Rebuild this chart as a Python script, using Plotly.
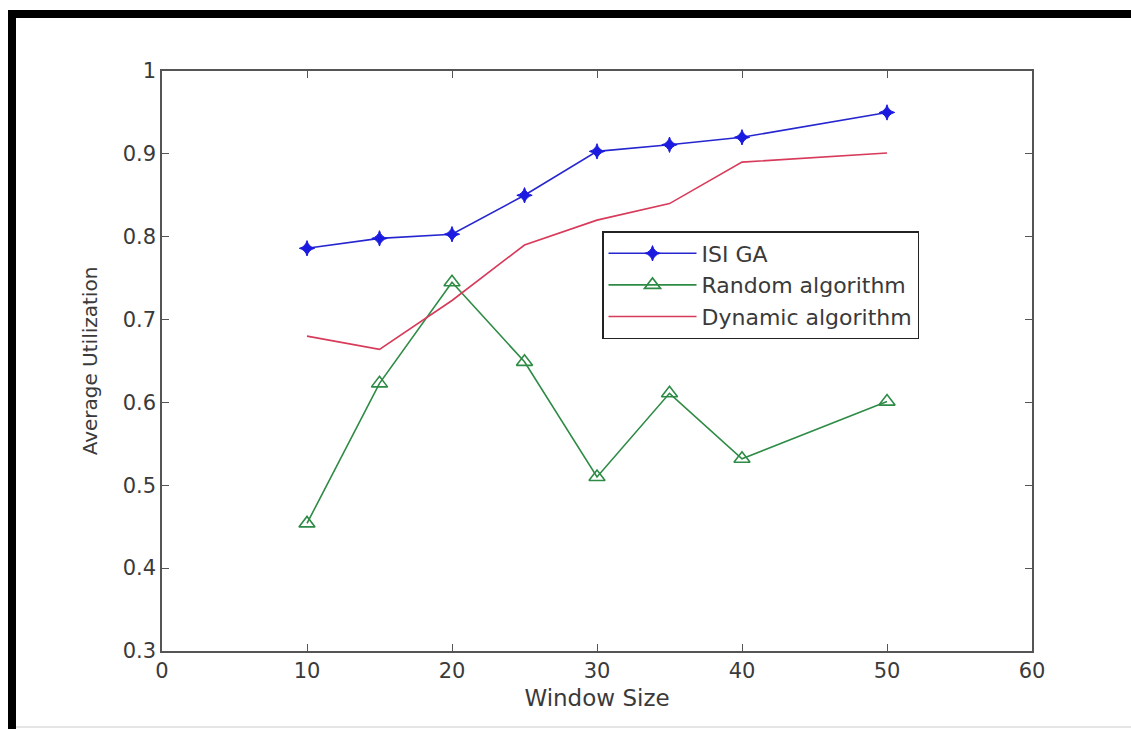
import plotly.graph_objects as go

window_size = [10, 15, 20, 25, 30, 35, 40, 50]
isi_ga = [0.786, 0.798, 0.803, 0.850, 0.903, 0.911, 0.920, 0.950]
random_alg = [0.454, 0.623, 0.745, 0.649, 0.510, 0.611, 0.532, 0.601]
dynamic_alg = [0.680, 0.664, 0.723, 0.790, 0.820, 0.840, 0.890, 0.901]

x_ticks = [0, 10, 20, 30, 40, 50, 60]
y_ticks = [0.3, 0.4, 0.5, 0.6, 0.7, 0.8, 0.9, 1.0]
y_tick_text = ["0.3", "0.4", "0.5", "0.6", "0.7", "0.8", "0.9", "1"]

FONT = "DejaVu Sans, Liberation Sans, sans-serif"
TEXT = "#3a3a3a"
AXIS_GRAY = "#555555"

fig = go.Figure()
fig.add_trace(go.Scatter(
    x=window_size, y=isi_ga, name="ISI GA", mode="lines+markers",
    line=dict(color="#2626d0", width=1.6),
    marker=dict(symbol="star-diamond", size=11, color="#1a1ae0",
                line=dict(color="#1a1ae0", width=1)),
))
fig.add_trace(go.Scatter(
    x=window_size, y=random_alg, name="Random algorithm", mode="lines+markers",
    line=dict(color="#2e8b45", width=1.6),
    marker=dict(symbol="triangle-up-open", size=14, color="#2e8b45",
                line=dict(color="#2e8b45", width=1.6)),
))
fig.add_trace(go.Scatter(
    x=window_size, y=dynamic_alg, name="Dynamic algorithm", mode="lines",
    line=dict(color="#d83a5a", width=1.6),
))

# page frame: heavy black rule across the top and down the left side
W, H = 870.0, 580.0
L, T = 162.0, 71.0


def px_x(p):
    return (p - L) / W


def px_y(p):
    return (T + H - p) / H


fig.add_shape(type="rect", xref="paper", yref="paper",
              x0=px_x(8), x1=px_x(1131), y0=px_y(18), y1=px_y(10),
              fillcolor="black", line=dict(width=0), layer="above")
fig.add_shape(type="rect", xref="paper", yref="paper",
              x0=px_x(8), x1=px_x(16), y0=px_y(729), y1=px_y(10),
              fillcolor="black", line=dict(width=0), layer="above")
fig.add_shape(type="line", xref="paper", yref="paper",
              x0=px_x(16), x1=px_x(1131), y0=px_y(727), y1=px_y(727),
              line=dict(color="#cccccc", width=1))

axis_common = dict(
    showgrid=False, zeroline=False, showline=True, linecolor=AXIS_GRAY,
    linewidth=1.5, mirror="ticks", ticks="inside", ticklen=7,
    tickwidth=1.3, tickcolor=AXIS_GRAY,
    tickfont=dict(family=FONT, size=21, color=TEXT),
)

fig.update_layout(
    width=1131, height=729,
    margin=dict(l=162, r=99, t=71, b=78),
    paper_bgcolor="white", plot_bgcolor="white",
    font=dict(family=FONT, color=TEXT),
    xaxis=dict(range=[0, 60], tickvals=x_ticks,
               title=dict(text="Window Size", font=dict(size=23, color=TEXT),
                          standoff=8),
               **axis_common),
    yaxis=dict(range=[0.3, 1.0], tickvals=y_ticks, ticktext=y_tick_text,
               title=dict(text="Average Utilization",
                          font=dict(size=20, color=TEXT), standoff=20),
               **axis_common),
    legend=dict(
        x=px_x(602), y=px_y(231), xanchor="left", yanchor="top",
        bgcolor="white", bordercolor="#222222", borderwidth=1.5,
        font=dict(family=FONT, size=22, color=TEXT),
        itemwidth=88, tracegroupgap=0,
    ),
    showlegend=True,
)

fig.write_html("out.html")
